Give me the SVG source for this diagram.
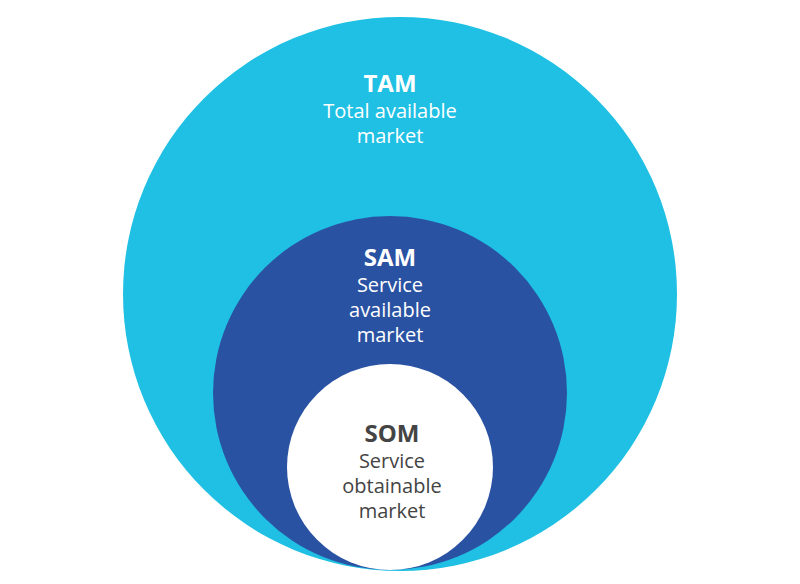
<svg xmlns="http://www.w3.org/2000/svg" width="800" height="584" viewBox="0 0 800 584">
<style>
text{font-family:"Open Sans","Liberation Sans",sans-serif;text-anchor:middle;font-size:20px}
.h{font-weight:bold;font-size:24px}
.w{fill:#fff}
.d{fill:#444}
</style>
<rect width="800" height="584" fill="#fff"/>
<g id="tam">
<circle cx="400" cy="294" r="277" fill="#1fc0e3"/>
<text class="h w" x="390" y="92">TAM</text>
<text class="w" x="390" y="118">Total available</text>
<text class="w" x="390" y="143">market</text>
</g>
<g id="sam">
<circle cx="390" cy="393" r="177" fill="#2a52a2"/>
<text class="h w" x="390" y="266">SAM</text>
<text class="w" x="390" y="292">Service</text>
<text class="w" x="390" y="317">available</text>
<text class="w" x="390" y="342">market</text>
</g>
<g id="som">
<circle cx="390" cy="467" r="103" fill="#fff"/>
<text class="h d" x="392" y="442">SOM</text>
<text class="d" x="392" y="468">Service</text>
<text class="d" x="392" y="493">obtainable</text>
<text class="d" x="392" y="518">market</text>
</g>
<g id="connectors"/>
</svg>
